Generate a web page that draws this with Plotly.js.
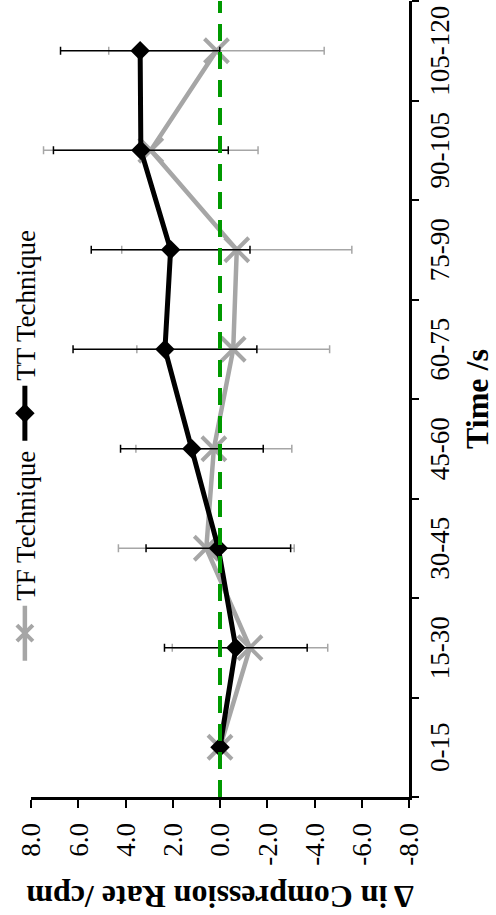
<!DOCTYPE html>
<html>
<head>
<meta charset="utf-8">
<script src="https://cdn.plot.ly/plotly-3.0.1.min.js"></script>
<style>
  html, body { margin: 0; padding: 0; background: #ffffff; overflow: hidden; }
  #page { position: relative; width: 496px; height: 915px; overflow: hidden; }
  /* The chart is laid out landscape and turned a quarter turn counter-clockwise */
  #chart {
    position: absolute; left: 0; top: 0;
    width: 915px; height: 496px;
    transform-origin: 0 0;
    transform: translateY(915px) rotate(-90deg);
  }
</style>
</head>
<body>
<div id="page"><div id="chart"></div></div>
<script>
// Time windows of the compression period
const timeWindows = ['0-15', '15-30', '30-45', '45-60', '60-75', '75-90', '90-105', '105-120'];

// Mean change in compression rate (cpm) and its standard deviation
const tfMean = [0.0, -1.27, 0.58, 0.26, -0.56, -0.71, 2.93, 0.15];
const tfSD   = [0, 3.29, 3.72, 3.30, 4.08, 4.87, 4.54, 4.56];
const ttMean = [0.0, -0.67, 0.07, 1.19, 2.33, 2.09, 3.35, 3.38];
const ttSD   = [0, 3.02, 3.06, 3.02, 3.89, 3.36, 3.70, 3.37];

// No-change reference level
const referenceLevel = 0;

// Value axis ticks
const valueTicks = [-8, -6, -4, -2, 0, 2, 4, 6, 8];
const valueTickText = ['-8.0', '-6.0', '-4.0', '-2.0', '0.0', '2.0', '4.0', '6.0', '8.0'];

const serif = '"Liberation Serif", "Times New Roman", serif';
const grey = '#A6A6A6';

const traces = [
  {
    name: 'TF Technique',
    x: timeWindows,
    y: tfMean,
    type: 'scatter',
    mode: 'lines+markers',
    line: { color: grey, width: 4.5 },
    marker: { symbol: 'x-thin', size: 24, color: grey, line: { color: grey, width: 4 } },
    error_y: { type: 'data', array: tfSD, visible: true, color: grey, thickness: 1.5, width: 4 }
  },
  {
    name: 'TT Technique',
    x: timeWindows,
    y: ttMean,
    type: 'scatter',
    mode: 'lines+markers',
    line: { color: '#000000', width: 5 },
    marker: { symbol: 'diamond', size: 15, color: '#000000' },
    error_y: { type: 'data', array: ttSD, visible: true, color: '#000000', thickness: 1.5, width: 4 }
  }
];

const layout = {
  width: 915,
  height: 496,
  margin: { l: 118, r: 1, t: 27, b: 87 },
  paper_bgcolor: '#ffffff',
  plot_bgcolor: '#ffffff',
  font: { family: serif, color: '#000000', size: 25 },
  showlegend: true,
  legend: {
    orientation: 'h',
    x: 0.165, xanchor: 'left',
    y: 1.015, yanchor: 'middle',
    font: { family: serif, size: 27, color: '#000000' },
    itemwidth: 55,
    bgcolor: 'rgba(0,0,0,0)'
  },
  xaxis: {
    type: 'category',
    range: [-0.5, timeWindows.length - 0.5],
    tickson: 'boundaries',
    tickangle: 0,
    ticks: 'outside', ticklen: 7, tickwidth: 2, tickcolor: '#000000',
    ticklabelstandoff: 5,
    showline: true, linewidth: 2.5, linecolor: '#000000',
    showgrid: false, zeroline: false,
    tickfont: { family: serif, size: 27, color: '#000000' },
    automargin: false,
    title: { text: 'Time /s', font: { family: serif, size: 32, weight: 'bold' }, standoff: 12 }
  },
  yaxis: {
    range: [-8, 8],
    tickvals: valueTicks,
    ticktext: valueTickText,
    ticks: 'outside', ticklen: 8, tickwidth: 2, tickcolor: '#000000',
    ticklabelstandoff: 10,
    showline: true, linewidth: 2.5, linecolor: '#000000',
    showgrid: false, zeroline: false,
    tickfont: { family: serif, size: 27, color: '#000000' },
    automargin: false,
    title: { text: 'Δ in Compression Rate /cpm', font: { family: serif, size: 32, weight: 'bold' }, standoff: 10 }
  },
  shapes: [
    {
      type: 'line', layer: 'above',
      xref: 'paper', x0: 0, x1: 1,
      yref: 'y', y0: referenceLevel, y1: referenceLevel,
      line: { color: '#009900', width: 4, dash: '17px,11px' }
    }
  ]
};

Plotly.newPlot('chart', traces, layout, { staticPlot: true, displayModeBar: false });
</script>
</body>
</html>
